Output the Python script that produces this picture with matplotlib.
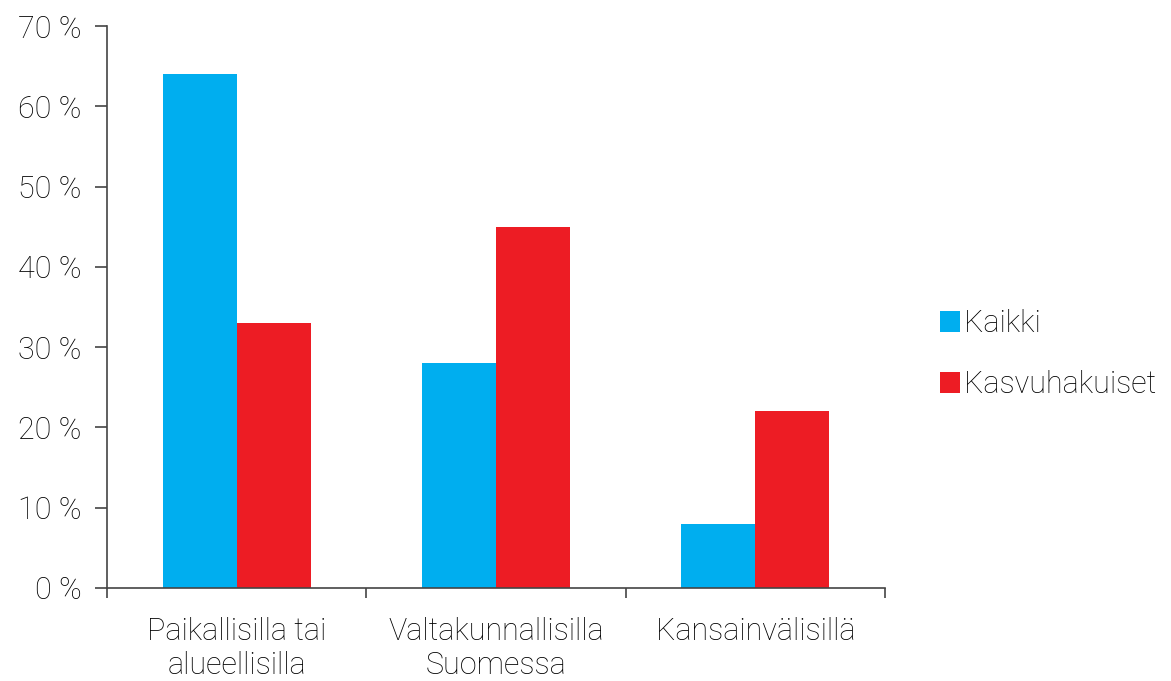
import numpy as np
import matplotlib.pyplot as plt

categories = ["Paikallisilla tai\nalueellisilla", "Valtakunnallisilla\nSuomessa", "Kansainvälisillä"]
kaikki = [64, 28, 8]
kasvuhakuiset = [33, 45, 22]
series_names = ["Kaikki", "Kasvuhakuiset"]
yticks = [0, 10, 20, 30, 40, 50, 60, 70]

plt.rcParams['font.family'] = ['Roboto', 'DejaVu Sans']
plt.rcParams['font.weight'] = 'light'
plt.rcParams['font.size'] = 22

fig = plt.figure(figsize=(11.71, 6.81), dpi=100)
ax = fig.add_axes([0.0914, 0.1366, 0.6644, 0.8252])

x = np.arange(len(categories))
w = 0.285
ax.bar(x - w / 2, kaikki, w, color='#00AEEF', label=series_names[0])
ax.bar(x + w / 2, kasvuhakuiset, w, color='#ED1C24', label=series_names[1])

ax.set_xlim(-0.5, len(categories) - 0.5)
ax.set_ylim(0, 70)
ax.set_yticks(yticks)
ax.set_yticklabels([f"{v} %" for v in yticks])

# category labels centred, tick marks at the boundaries
ax.set_xticks(x)
ax.set_xticklabels(categories, linespacing=1.2)
ax.set_xticks(np.arange(len(categories) + 1) - 0.5, minor=True)
ax.tick_params(axis='x', which='major', length=0, pad=21)
ax.tick_params(axis='x', which='minor', length=7, width=1.2, color='#444444', direction='out')
ax.tick_params(axis='y', length=8.5, width=1.2, color='#444444', pad=10)

for s in ['top', 'right']:
    ax.spines[s].set_visible(False)
for s in ['left', 'bottom']:
    ax.spines[s].set_color('#444444')
    ax.spines[s].set_linewidth(1.2)
ax.spines['bottom'].set_bounds(-0.5, len(categories) - 0.5)

fig.legend(loc='center left', bbox_to_anchor=(0.792, 0.48), frameon=False,
           handlelength=0.68, handleheight=0.68, handletextpad=0.12,
           labelspacing=1.05, borderaxespad=0)

fig.savefig('out.png', dpi=100)
